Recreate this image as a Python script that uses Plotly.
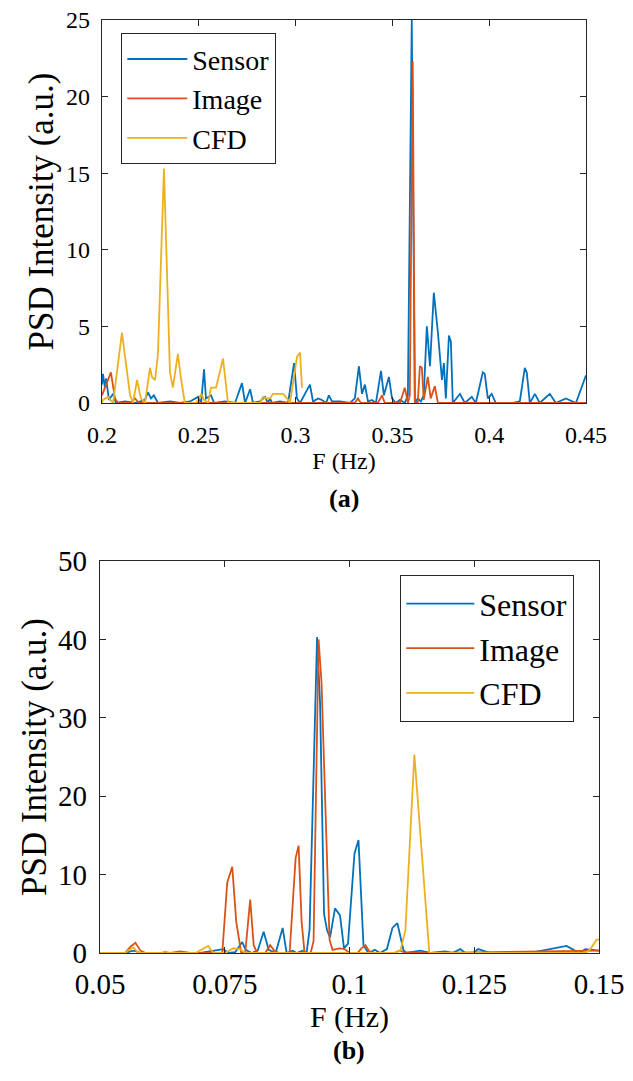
import plotly.graph_objects as go

# ---------------- data: panel (a) ----------------
a_sensor_f = [0.2000, 0.2005, 0.2015, 0.2021, 0.2036, 0.2057, 0.2072, 0.2119, 0.2170, 0.2222,
              0.2237, 0.2253, 0.2268, 0.2289, 0.2351, 0.2403, 0.2455, 0.2496, 0.2512, 0.2527,
              0.2537, 0.2563, 0.2579, 0.2636, 0.2687, 0.2723, 0.2739, 0.2765, 0.2780, 0.2816,
              0.2842, 0.2857, 0.2868, 0.2878, 0.2919, 0.2961, 0.2992, 0.3007, 0.3023, 0.3074,
              0.3090, 0.3116, 0.3136, 0.3157, 0.3172, 0.3188, 0.3229, 0.3281, 0.3306, 0.3327,
              0.3343, 0.3358, 0.3374, 0.3394, 0.3415, 0.3441, 0.3456, 0.3482, 0.3498, 0.3518,
              0.3539, 0.3564, 0.3580, 0.3600, 0.3616, 0.3631, 0.3647, 0.3662, 0.3678, 0.3694,
              0.3714, 0.3735, 0.3756, 0.3766, 0.3776, 0.3792, 0.3802, 0.3812, 0.3849, 0.3874,
              0.3910, 0.3931, 0.3967, 0.3977, 0.3993, 0.4013, 0.4034, 0.4122, 0.4158, 0.4184,
              0.4194, 0.4210, 0.4236, 0.4261, 0.4313, 0.4344, 0.4396, 0.4448, 0.4500]
a_sensor_v = [1.2, 1.9, 1.0, 1.6, 0.2, 0.6, 0.0, 0.1, 0.0, 0.2,
              0.7, 0.3, 0.5, 0.0, 0.1, 0.0, 0.1, 0.4, 0.0, 2.2,
              0.3, 0.5, 0.0, 0.1, 0.0, 1.3, 0.0, 0.9, 0.0, 0.1,
              0.4, 0.0, 0.3, 0.0, 0.1, 0.0, 2.6, 0.3, 0.0, 1.2,
              0.1, 0.3, 0.2, 0.0, 0.5, 0.1, 0.1, 0.0, 0.3, 2.4,
              0.6, 1.2, 0.1, 0.2, 0.0, 2.1, 0.5, 1.7, 0.3, 0.0,
              0.2, 0.0, 0.5, 25.0, 0.0, 0.3, 0.1, 0.5, 5.0, 2.4,
              7.2, 4.6, 1.5, 2.6, 0.3, 4.4, 4.0, 0.0, 0.6, 0.0,
              0.4, 0.0, 2.0, 1.9, 0.3, 0.6, 0.0, 0.0, 0.1, 2.3,
              2.0, 0.0, 0.6, 0.0, 0.6, 0.0, 0.3, 0.0, 1.8]

a_image_f = [0.2000, 0.2021, 0.2046, 0.2067, 0.2083, 0.2145, 0.2170, 0.2191, 0.3306, 0.3322,
             0.3337, 0.3425, 0.3446, 0.3461, 0.3539, 0.3564, 0.3580, 0.3590, 0.3605, 0.3616,
             0.3631, 0.3642, 0.3652, 0.3662, 0.3683, 0.3698, 0.3719, 0.3735, 0.4500]
a_image_v = [0.5, 1.2, 2.0, 0.3, 0.0, 0.0, 0.3, 0.0, 0.0, 0.3,
             0.0, 0.0, 0.5, 0.0, 0.0, 1.0, 0.0, 0.5, 22.3, 0.0,
             0.0, 2.4, 2.3, 0.2, 1.7, 0.3, 1.1, 0.0, 0.0]

a_cfd_f = [0.2000, 0.2005, 0.2031, 0.2057, 0.2103, 0.2145, 0.2160, 0.2181, 0.2201, 0.2222,
           0.2248, 0.2258, 0.2274, 0.2289, 0.2320, 0.2351, 0.2366, 0.2392, 0.2408, 0.2428,
           0.2485, 0.2501, 0.2512, 0.2527, 0.2548, 0.2563, 0.2589, 0.2625, 0.2651, 0.2816,
           0.2832, 0.2847, 0.2868, 0.2883, 0.2935, 0.2956, 0.2971, 0.3007, 0.3023, 0.3033]
a_cfd_v = [0.0, 0.2, 0.4, 0.0, 4.6, 0.5, 0.0, 1.5, 0.3, 0.0,
           2.3, 1.7, 1.5, 3.2, 15.3, 2.0, 1.0, 3.2, 1.6, 0.0,
           0.0, 0.3, 0.6, 0.2, 0.0, 1.0, 1.0, 2.9, 0.0, 0.0,
           0.4, 0.3, 0.3, 0.6, 0.6, 0.3, 0.0, 3.0, 3.3, 1.0]

# ---------------- data: panel (b) ----------------
b_sensor_f = [0.0500, 0.0550, 0.0561, 0.0569, 0.0581, 0.0701, 0.0747, 0.0757, 0.0771, 0.0785,
              0.0792, 0.0804, 0.0816, 0.0828, 0.0838, 0.0852, 0.0866, 0.0874, 0.0886, 0.0894,
              0.0906, 0.0914, 0.0920, 0.0935, 0.0941, 0.0949, 0.0955, 0.0961, 0.0971, 0.0981,
              0.0989, 0.0997, 0.1010, 0.1018, 0.1028, 0.1038, 0.1051, 0.1061, 0.1075, 0.1086,
              0.1096, 0.1108, 0.1114, 0.1142, 0.1162, 0.1192, 0.1206, 0.1222, 0.1232, 0.1248,
              0.1258, 0.1282, 0.1341, 0.1361, 0.1378, 0.1435, 0.1449, 0.1459, 0.1473, 0.1500]
b_sensor_v = [0.0, 0.0, 0.2, 0.3, 0.0, 0.0, 0.5, 0.0, 0.1, 1.4,
              0.4, 0.0, 0.3, 2.7, 0.4, 0.0, 3.2, 0.0, 0.3, 0.0,
              0.3, 0.0, 3.0, 40.3, 31.9, 5.0, 2.9, 2.0, 5.7, 4.8,
              0.6, 1.2, 12.7, 14.4, 1.0, 0.0, 0.4, 0.0, 0.5, 3.2,
              3.8, 0.4, 0.0, 0.3, 0.0, 0.2, 0.0, 0.5, 0.0, 0.0,
              0.5, 0.0, 0.1, 0.0, 0.2, 0.9, 0.4, 0.0, 0.5, 0.3]

b_image_f = [0.0500, 0.0550, 0.0561, 0.0571, 0.0581, 0.0591, 0.0641, 0.0661, 0.0681, 0.0745,
             0.0755, 0.0765, 0.0773, 0.0783, 0.0791, 0.0801, 0.0808, 0.0815, 0.0831, 0.0841,
             0.0849, 0.0859, 0.0880, 0.0892, 0.0898, 0.0904, 0.0910, 0.0922, 0.0928, 0.0938,
             0.0944, 0.0954, 0.0960, 0.0966, 0.0980, 0.0990, 0.1000, 0.1016, 0.1024, 0.1032,
             0.1040, 0.1050, 0.1090, 0.1100, 0.1110, 0.1162, 0.1500]
b_image_v = [0.0, 0.0, 0.8, 1.3, 0.3, 0.0, 0.0, 0.2, 0.0, 0.0,
             9.0, 11.0, 4.0, 0.0, 0.0, 6.8, 1.0, 0.0, 0.0, 1.0,
             0.3, 0.0, 0.0, 12.1, 13.7, 4.0, 0.0, 0.0, 1.5, 40.0,
             34.4, 12.0, 1.7, 0.4, 0.6, 0.5, 0.0, 0.0, 0.6, 1.0,
             0.2, 0.0, 0.0, 0.3, 0.1, 0.0, 0.3]

b_cfd_f = [0.0500, 0.0550, 0.0561, 0.0567, 0.0577, 0.0621, 0.0631, 0.0641, 0.0691, 0.0717,
           0.0727, 0.0751, 0.0767, 0.0781, 0.0791, 0.1092, 0.1102, 0.1112, 0.1130, 0.1160,
           0.1473, 0.1483, 0.1495, 0.1500]
b_cfd_v = [0.0, 0.0, 0.5, 0.7, 0.0, 0.0, 0.2, 0.0, 0.0, 0.9,
           0.0, 0.0, 0.6, 0.5, 0.0, 0.0, 0.3, 2.9, 25.3, 0.0,
           0.0, 0.5, 1.7, 1.7]

series_names = ["Sensor", "Image", "CFD"]
series_colors = ["#0072BD", "#D95319", "#EDB120"]
a_xticks = [0.2, 0.25, 0.3, 0.35, 0.4, 0.45]
a_yticks = [0, 5, 10, 15, 20, 25]
b_xticks = [0.05, 0.075, 0.1, 0.125, 0.15]
b_xticktext = ["0.05", "0.075", "0.1", "0.125", "0.15"]
b_yticks = [0, 10, 20, 30, 40, 50]

# ---------------- figure ----------------
# The page body adds an 8 px margin, so the figure is drawn 8 px smaller and
# positions are given in window pixels minus that offset.
OFF = 8
W, H = 633 - OFF, 1081 - OFF
FONT = "Liberation Serif, Times New Roman, serif"


def px(xp):
    return (xp - OFF) / W


def py(yp):
    return 1 - (yp - OFF) / H


fig = go.Figure()

a_data = [(a_sensor_f, a_sensor_v), (a_image_f, a_image_v), (a_cfd_f, a_cfd_v)]
b_data = [(b_sensor_f, b_sensor_v), (b_image_f, b_image_v), (b_cfd_f, b_cfd_v)]

for (fx, fy), name, col in zip(a_data, series_names, series_colors):
    fig.add_trace(go.Scatter(x=fx, y=fy, mode="lines", name=name,
                             line=dict(color=col, width=1.8),
                             xaxis="x", yaxis="y", legend="legend"))
for (fx, fy), name, col in zip(b_data, series_names, series_colors):
    fig.add_trace(go.Scatter(x=fx, y=fy, mode="lines", name=name,
                             line=dict(color=col, width=1.8),
                             xaxis="x2", yaxis="y2", legend="legend2"))

axis_common = dict(showline=True, linecolor="#262626", linewidth=1.3, mirror="ticks",
                   ticks="inside", ticklen=6, tickcolor="#262626", tickwidth=1.3,
                   showgrid=False, zeroline=False, automargin=False,
                   ticklabeloverflow="allow")

fig.update_layout(
    width=W, height=H,
    margin=dict(l=0, r=0, t=0, b=0),
    paper_bgcolor="white", plot_bgcolor="white",
    font=dict(family=FONT, color="black"),
    xaxis=dict(domain=[px(102), px(586)], range=[0.2, 0.45], tickvals=a_xticks,
               tickfont=dict(size=24), anchor="y", ticklabelstandoff=10,
               title=dict(text="F (Hz)", font=dict(size=24), standoff=1), **axis_common),
    yaxis=dict(domain=[py(403), py(20)], range=[0, 25], tickvals=a_yticks,
               tickfont=dict(size=24), anchor="x", ticklabelstandoff=6,
               title=dict(text="PSD Intensity (a.u.)", font=dict(size=35), standoff=1),
               **axis_common),
    xaxis2=dict(domain=[px(100), px(599)], range=[0.05, 0.15], tickvals=b_xticks,
                ticktext=b_xticktext, tickfont=dict(size=29), anchor="y2", ticklabelstandoff=5,
                title=dict(text="F (Hz)", font=dict(size=30), standoff=0), **axis_common),
    yaxis2=dict(domain=[py(953), py(561)], range=[0, 50], tickvals=b_yticks,
                tickfont=dict(size=29), anchor="x2", ticklabelstandoff=6,
                title=dict(text="PSD Intensity (a.u.)", font=dict(size=35), standoff=0),
                **axis_common),
    legend=dict(x=px(121), y=py(33), xanchor="left", yanchor="top",
                bgcolor="white", bordercolor="#262626", borderwidth=1.3,
                font=dict(size=28, family=FONT), tracegroupgap=0, itemwidth=60),
    legend2=dict(x=px(400), y=py(575), xanchor="left", yanchor="top",
                 bgcolor="white", bordercolor="#262626", borderwidth=1.3,
                 font=dict(size=32, family=FONT), tracegroupgap=0, itemwidth=68),
    annotations=[
        dict(text="<b>(a)</b>", x=px(344), y=py(498), xref="paper", yref="paper",
             showarrow=False, font=dict(size=26, family=FONT), xanchor="center", yanchor="middle"),
        dict(text="<b>(b)</b>", x=px(349), y=py(1050), xref="paper", yref="paper",
             showarrow=False, font=dict(size=26, family=FONT), xanchor="center", yanchor="middle"),
    ],
)

fig.write_html("out.html")
